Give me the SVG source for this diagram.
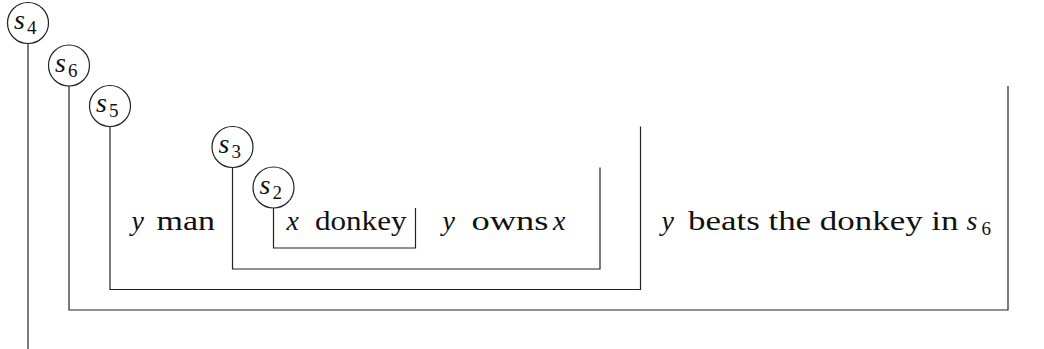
<svg xmlns="http://www.w3.org/2000/svg" width="1044" height="349" viewBox="0 0 1044 349">
  <style>
    .frame { fill: none; stroke: #222; stroke-width: 1.2; }
    .dot { fill: #fff; stroke: #222; stroke-width: 1.2; }
    text { font-family: "Liberation Serif", "Times New Roman", Tinos, "Noto Serif", serif; fill: #111; }
    .rm { font-size: 28px; }
    .it { font-size: 28px; font-style: italic; }
    .sub { font-size: 19px; }
  </style>

  <!-- box frames: each hangs from its situation marker -->
  <g id="connectors">
    <path class="frame" d="M28 43.5 V349"/>
    <path class="frame" d="M69 86 V310 H1008 V86"/>
    <path class="frame" d="M110 126.5 V289.5 H640.5 V126.5"/>
    <path class="frame" d="M232.5 167.5 V269 H600 V167.5"/>
    <path class="frame" d="M273.5 208 V248 H415.5 V208"/>
  </g>

  <!-- situation markers -->
  <g id="s4">
    <circle class="dot" cx="28" cy="23" r="20.5"/>
    <text class="it" x="14" y="29">s</text><text class="sub" x="27" y="34">4</text>
  </g>
  <g id="s6">
    <circle class="dot" cx="69" cy="65.5" r="20.5"/>
    <text class="it" x="55" y="71.5">s</text><text class="sub" x="68" y="76.5">6</text>
  </g>
  <g id="s5">
    <circle class="dot" cx="110" cy="106" r="20.5"/>
    <text class="it" x="96" y="112">s</text><text class="sub" x="109" y="117">5</text>
  </g>
  <g id="s3">
    <circle class="dot" cx="232.5" cy="147" r="20.5"/>
    <text class="it" x="218.5" y="153">s</text><text class="sub" x="231.5" y="158">3</text>
  </g>
  <g id="s2">
    <circle class="dot" cx="273.5" cy="187.5" r="20.5"/>
    <text class="it" x="259.5" y="193.5">s</text><text class="sub" x="272.5" y="198.5">2</text>
  </g>

  <!-- conditions -->
  <g id="y-man">
    <text class="it" x="131.5" y="230">y</text>
    <text class="rm" x="156.5" y="230" textLength="58.5" lengthAdjust="spacingAndGlyphs">man</text>
  </g>
  <g id="x-donkey">
    <text class="it" x="286.5" y="230">x</text>
    <text class="rm" x="315" y="230" textLength="91.5" lengthAdjust="spacingAndGlyphs">donkey</text>
  </g>
  <g id="y-owns-x">
    <text class="it" x="442.5" y="230">y</text>
    <text class="rm" x="471.5" y="230" textLength="77" lengthAdjust="spacingAndGlyphs">owns</text>
    <text class="it" x="553" y="230">x</text>
  </g>
  <g id="y-beats">
    <text class="it" x="661.5" y="230">y</text>
    <text class="rm" x="688" y="230" textLength="270.5" lengthAdjust="spacingAndGlyphs">beats the donkey in</text>
    <text class="it" x="966.5" y="230">s</text><text class="sub" x="981.5" y="235">6</text>
  </g>
</svg>
